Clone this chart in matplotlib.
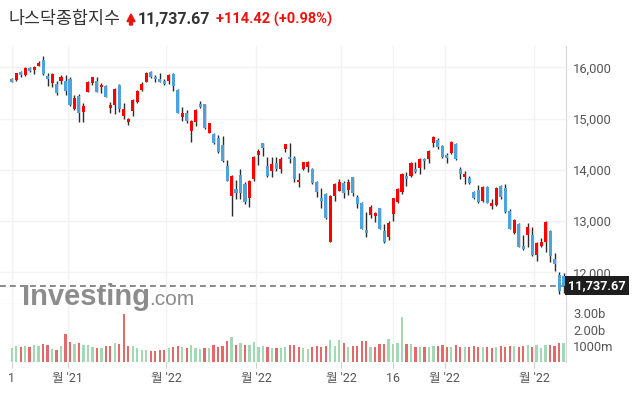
"""
Nasdaq Composite daily candlestick chart (investing.com style) with volume panel
"""

import numpy as np
import matplotlib
matplotlib.use('Agg')
import matplotlib.pyplot as plt
from matplotlib.patches import Polygon
from matplotlib.transforms import blended_transform_factory

# ================================
# Data
# ================================
opens = [15772, 15752, 15908, 15850, 15986, 15947, 16025, 16143, 15837, 15700,
         15674, 15733, 15733, 15772, 15193, 15440, 15134, 15525, 15700, 15733,
         15609, 15635, 15212, 15258, 15655, 15056, 14939, 15154, 15330, 15564,
         15720, 15915, 15817, 15765, 15733, 15733, 15869, 15557, 15037, 15115,
         14764, 14939, 15284, 15277, 14725, 14699, 14614, 14484, 14074, 13495,
         13619, 13892, 13723, 13456, 13821, 14289, 14523, 14074, 13983, 14126,
         14009, 14399, 14250, 14230, 13756, 14022, 14061, 14022, 13756, 13450,
         13528, 12598, 13495, 13593, 13743, 13606, 13860, 13463, 13359, 12825,
         13125, 13105, 13248, 12806, 12695, 13144, 13372, 13573, 13886, 13886,
         14016, 14029, 14217, 14204, 14517, 14582, 14464, 14295, 14321, 14504,
         14022, 13866, 13840, 13567, 13606, 13398, 13671, 13300, 13320, 13691,
         13645, 13196, 12773, 12943, 12513, 12728, 12728, 12344, 12520, 12591,
         12806, 12260, 11947, 11928]
highs = [15785, 15895, 15928, 15999, 16012, 16025, 16130, 16221, 15895, 15882,
         15739, 15850, 15850, 15817, 15453, 15479, 15297, 15733, 15817, 15804,
         15687, 15655, 15330, 15590, 15668, 15297, 15017, 15375, 15557, 15713,
         15902, 15934, 15843, 15882, 15765, 15869, 15882, 15570, 15219, 15167,
         14972, 15180, 15343, 15291, 14920, 14725, 14679, 14660, 14191, 13892,
         13801, 14016, 13769, 13801, 14269, 14399, 14530, 14243, 14243, 14243,
         14243, 14510, 14517, 14269, 13931, 14159, 14178, 14035, 13782, 13638,
         13541, 13502, 13736, 13814, 13782, 13814, 13866, 13502, 13372, 13170,
         13313, 13183, 13255, 12943, 12995, 13456, 13638, 13931, 13951, 14159,
         14159, 14224, 14230, 14380, 14660, 14614, 14484, 14321, 14562, 14523,
         14048, 13983, 13879, 13580, 13704, 13684, 13691, 13424, 13671, 13710,
         13723, 13229, 13034, 12956, 12728, 12962, 12878, 12585, 12663, 13001,
         12819, 12370, 12006, 11980]
lows = [15707, 15733, 15804, 15837, 15915, 15869, 16020, 15850, 15635, 15622,
        15466, 15674, 15460, 15245, 15167, 14939, 14939, 15512, 15655, 15512,
        15492, 15414, 15115, 15082, 15128, 14985, 14881, 15043, 15304, 15544,
        15713, 15785, 15707, 15707, 15661, 15668, 15531, 15102, 14946, 14907,
        14549, 14855, 15199, 14803, 14712, 14504, 14334, 14159, 13782, 13105,
        13430, 13424, 13333, 13268, 13788, 14094, 14269, 13866, 13866, 13983,
        13944, 14354, 14139, 13756, 13671, 13996, 13951, 13723, 13476, 13261,
        13040, 12591, 13391, 13580, 13456, 13515, 13495, 13248, 12838, 12695,
        13053, 12975, 12845, 12578, 12630, 13008, 13346, 13528, 13684, 13866,
        13931, 13918, 14022, 14126, 14438, 14399, 14230, 14139, 14308, 14185,
        13814, 13717, 13717, 13424, 13346, 13378, 13346, 13242, 13300, 13437,
        13164, 12838, 12747, 12487, 12435, 12500, 12325, 12227, 12487, 12390,
        12208, 12019, 11577, 11590]
closes = [15720, 15882, 15856, 15980, 15934, 15999, 16077, 15869, 15778, 15869,
          15505, 15804, 15538, 15271, 15408, 15102, 15245, 15713, 15804, 15525,
          15661, 15427, 15264, 15577, 15186, 15180, 14991, 15362, 15538, 15681,
          15895, 15804, 15765, 15720, 15668, 15850, 15635, 15115, 15115, 14959,
          14959, 15167, 15219, 14822, 14907, 14530, 14354, 14178, 13788, 13879,
          13554, 13554, 13365, 13782, 14256, 14367, 14432, 13879, 14113, 14016,
          14211, 14497, 14204, 13814, 13801, 14146, 14146, 13736, 13573, 13398,
          13053, 13489, 13717, 13756, 13554, 13756, 13554, 13333, 12852, 12773,
          13268, 13157, 12852, 12598, 12956, 13443, 13625, 13918, 13821, 14133,
          13951, 14211, 14165, 14367, 14634, 14451, 14243, 14230, 14536, 14211,
          13912, 13918, 13736, 13443, 13378, 13665, 13359, 13352, 13651, 13476,
          13183, 12852, 13013, 12500, 12455, 12878, 12344, 12565, 12591, 12982,
          12318, 12169, 11642, 11737.67]

# volume in billions
volumes = [0.84, 0.99, 0.91, 0.99, 0.91, 1.05, 0.99, 1.11, 1.05, 0.78,
           0.72, 0.99, 1.73, 1.23, 1.11, 1.17, 1.05, 1.05, 0.93, 0.84,
           0.84, 0.99, 0.99, 1.17, 1.11, 2.94, 0.99, 0.99, 0.84, 0.72,
           0.72, 0.66, 0.66, 0.72, 0.72, 0.84, 0.93, 0.99, 0.93, 0.84,
           1.05, 0.84, 0.80, 0.84, 0.84, 1.05, 0.93, 0.99, 1.30, 1.54,
           1.05, 1.17, 1.05, 1.05, 1.23, 0.93, 0.99, 0.93, 0.84, 0.84,
           0.84, 0.93, 1.05, 1.05, 0.93, 0.84, 0.78, 0.93, 0.99, 0.94,
           1.00, 1.35, 0.98, 1.35, 1.20, 0.94, 0.98, 1.00, 1.28, 1.28,
           0.90, 0.94, 1.14, 1.09, 1.41, 1.09, 1.20, 2.79, 1.09, 1.09,
           0.94, 0.94, 0.94, 0.90, 1.00, 0.98, 1.05, 0.94, 0.94, 1.05,
           0.94, 0.94, 0.90, 0.98, 0.90, 0.94, 0.94, 0.85, 0.90, 0.98,
           0.94, 0.98, 0.98, 0.94, 0.98, 1.02, 0.94, 1.02, 0.84, 1.05,
           1.05, 0.98, 1.17, 1.17]

date_ticks = [0, 12.5, 34.5, 54.5, 73.5, 85, 96.5, 116.5]
date_labels = ["1", "월 '21", "월 '22", "월 '22", "월 '22", "16", "월 '22", "월 '22"]

price_ticks = [12000, 13000, 14000, 15000, 16000]
price_labels = ["12,000", "13,000", "14,000", "15,000", "16,000"]
vol_ticks = [1, 2, 3]
vol_labels = ["1000m", "2.00b", "3.00b"]

last_price = 11737.67
change_text = "+114.42 (+0.98%)"

# ================================
# Style
# ================================
UP_COLOR = '#fe0000'
DOWN_COLOR = '#4ea3dc'
VOL_UP = '#a3d8b4'
VOL_DOWN = '#e46a6a'
GRID_COLOR = '#f2f2f2'
TEXT_COLOR = '#555555'
FONTS = ['Roboto', 'Noto Sans CJK KR', 'DejaVu Sans']
plt.rcParams['font.family'] = FONTS

W, H = 633, 396
fig = plt.figure(figsize=(W / 100, H / 100), dpi=100)

def px_box(x0, y0, x1, y1):
    # pixel box (top-left origin) -> figure fraction
    return [x0 / W, 1 - y1 / H, (x1 - x0) / W, (y1 - y0) / H]

ax = fig.add_axes(px_box(0, 46, 566, 304.3))
axv = fig.add_axes(px_box(0, 304.3, 566, 362))

x = np.arange(len(closes))
o = np.array(opens, dtype=float)
c = np.array(closes, dtype=float)
hi = np.array(highs, dtype=float)
lo = np.array(lows, dtype=float)
up = c >= o

# ================================
# Candles
# ================================
ax.vlines(x, lo, hi, color='#2b2b2b', lw=1.0, zorder=3)
body_h = np.maximum(np.abs(c - o), 12)
ax.bar(x, body_h, bottom=np.minimum(o, c), width=0.68,
       color=np.where(up, UP_COLOR, DOWN_COLOR), zorder=4, linewidth=0)

ax.axhline(last_price, color='#777777', lw=1.2, ls=(0, (3.5, 2.5)), zorder=2)

ax.set_xlim(-2.6, 123.55)
ax.set_ylim(11375, 16416)
ax.set_yticks(price_ticks)
ax.set_yticklabels(price_labels)
ax.yaxis.tick_right()
ax.tick_params(axis='y', length=0, pad=5, labelsize=9.3, labelcolor=TEXT_COLOR)
ax.tick_params(axis='x', length=0, labelbottom=False)
ax.set_xticks(date_ticks)
ax.grid(True, color=GRID_COLOR, lw=1.0, zorder=0)
for side in ['top', 'left']:
    ax.spines[side].set_visible(False)
ax.spines['right'].set_color('#d6d6de')
ax.spines['bottom'].set_color('#c4c4c4')

# last price box
trans = blended_transform_factory(ax.transAxes, ax.transData)
ax.text(1.003, last_price, f"{last_price:,.2f}", transform=trans, ha='left', va='center',
        fontsize=9.2, fontweight='bold', color='white', zorder=6, clip_on=False,
        bbox=dict(boxstyle='square,pad=0.25', facecolor='#1e1e1e', edgecolor='none'))

# ================================
# Volume
# ================================
vols = np.array(volumes)
vol_up = np.concatenate([[True], c[1:] >= c[:-1]])
axv.bar(x, vols, width=0.5, color=np.where(vol_up, VOL_UP, VOL_DOWN), linewidth=0, zorder=3)
axv.set_xlim(-2.6, 123.55)
axv.set_ylim(0, 3.56)
axv.set_yticks(vol_ticks)
axv.set_yticklabels(vol_labels)
axv.yaxis.tick_right()
axv.tick_params(axis='y', length=0, pad=5, labelsize=9.3, labelcolor=TEXT_COLOR)
axv.set_xticks(date_ticks)
axv.set_xticklabels(date_labels)
axv.tick_params(axis='x', length=4, width=0.8, color='#d0d0d0', pad=3,
                labelsize=9, labelcolor=TEXT_COLOR)
axv.grid(True, axis='x', color=GRID_COLOR, lw=1.0, zorder=0)
for side in ['top', 'left', 'bottom']:
    axv.spines[side].set_visible(False)
axv.spines['right'].set_color('#d6d6de')

# ================================
# Header and watermark
# ================================
fig.text(9 / W, 1 - 19 / H, "나스닥종합지수", fontsize=12.5, color='#333333',
         va='center', ha='left', family=['Noto Sans CJK KR'])
arrow = Polygon([[127, 21.5], [131, 14], [135, 21.5], [132.5, 21.5], [132.5, 25],
                 [129.5, 25], [129.5, 21.5]], closed=True, color='#ee1111',
                transform=fig.transFigure)
arrow.set_xy(np.column_stack([arrow.get_xy()[:, 0] / W, 1 - arrow.get_xy()[:, 1] / H]))
fig.patches.append(arrow)
fig.text(138 / W, 1 - 19.5 / H, f"{last_price:,.2f}", fontsize=11.5, fontweight='bold',
         color='#333333', va='center', ha='left')
fig.text(216 / W, 1 - 19.5 / H, change_text, fontsize=10.5, fontweight='bold',
         color='#ee1111', va='center', ha='left')

fig.text(22 / W, 1 - 305 / H, "Investing", fontsize=21, fontweight='bold',
         color='#8c8c8c', va='baseline', ha='left', family=['Liberation Sans'], zorder=1)
fig.text(149 / W, 1 - 305 / H, ".com", fontsize=15, color='#8c8c8c',
         va='baseline', ha='left', family=['Liberation Sans'], zorder=1)

plt.savefig('out.png', dpi=100)
